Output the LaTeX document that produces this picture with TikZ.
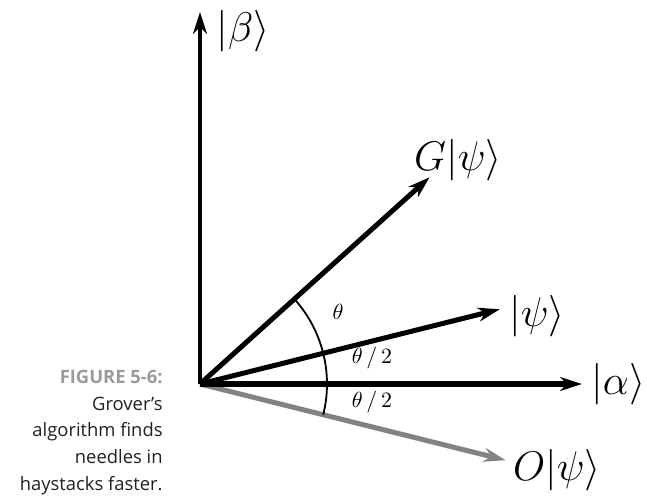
\documentclass[tikz,border=0pt]{standalone}
\usepackage{amsmath,amssymb}
\usepackage{fontspec}
\newfontfamily\capfont{Open Sans}
\usepackage{xcolor}
\usetikzlibrary{arrows.meta}
\definecolor{capgray}{HTML}{9A9A9A}
\definecolor{captext}{HTML}{231F20}
\definecolor{oragray}{HTML}{828282}

\begin{document}
\begin{tikzpicture}[x=0.5pt,y=0.5pt,>={Stealth[length=11pt,width=7pt]},line join=round,
  vec/.style={->,line width=2.5pt},
  ket/.style={font=\fontsize{22}{26}\selectfont,inner sep=0pt},
  ang/.style={font=\fontsize{11}{13}\selectfont,inner sep=0pt}]
  \useasboundingbox (-200,-114) rectangle (447,384);
  \coordinate (O) at (0,0);
  \coordinate (B) at (90:372);
  \coordinate (A) at (0:382);
  \coordinate (G) at (42:309);
  \coordinate (P) at (14:309);
  \coordinate (R) at (-14:315);
  \coordinate (ArcS) at (-14:127);
  % oracle step first, so the black ones sit on top
  \draw[vec,oragray] (O) -- (R);
  \draw[->,line width=2.2pt] (O) -- (B);
  \draw[->,line width=3pt] (O) -- (A);
  \draw[vec] (O) -- (P);
  \draw[vec] (O) -- (G);
  \draw[line width=0.9pt] (ArcS) arc[start angle=-14,end angle=41,radius=127];
  \node[ket] (kB) at (43,353) {$|\beta\rangle$};
  \node[ket] (kG) at (258,224) {$G|\psi\rangle$};
  \node[ket] (kP) at (337,68) {$|\psi\rangle$};
  \node[ket,anchor=west] (kA) at (391,0) {$|\alpha\rangle$};
  \node[ket] (kR) at (357,-86) {$O|\psi\rangle$};
  \node[ang] (th) at (138,72) {$\theta$};
  \node[ang] (thU) at (172,26) {$\theta\,/\,2$};
  \node[ang] (thL) at (172,-18) {$\theta\,/\,2$};
  \node[anchor=north east,align=right,inner sep=0pt,text=captext,
    font=\capfont\fontsize{9.2}{13.3}\selectfont] (cap) at (-37,14)
    {{\bfseries\color{capgray}FIGURE 5-6:}\\Grover’s\\algorithm finds\\needles in\\haystacks faster.};
\end{tikzpicture}
\end{document}
